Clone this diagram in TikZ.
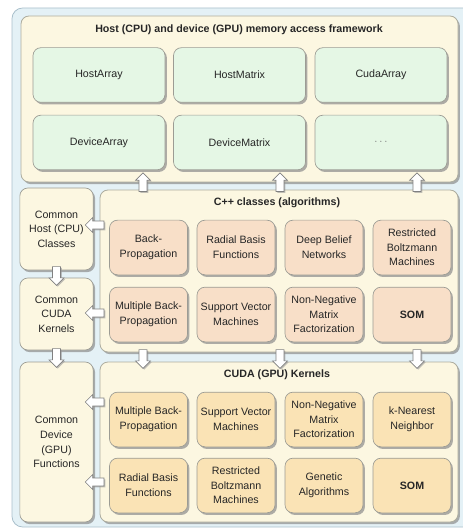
\documentclass[tikz,border=0pt]{standalone}
\usepackage{fontspec}
\setmainfont{Liberation Sans}
\usetikzlibrary{shapes.arrows,shadows}

\definecolor{outerbg}{HTML}{E4F1F6}
\definecolor{outerln}{HTML}{A9BFCB}
\definecolor{panelbg}{HTML}{FCF7E1}
\definecolor{panelln}{HTML}{ADAD9F}
\definecolor{greenbg}{HTML}{E5F7E5}
\definecolor{algbg}{HTML}{F8DFC8}
\definecolor{kernbg}{HTML}{FAE3B5}
\definecolor{boxln}{HTML}{9C9C94}

\tikzset{
  shade/.style={drop shadow={shadow xshift=1.4pt,shadow yshift=-1.6pt,fill=black!45,opacity=.7}},
  panel/.style={draw=panelln,fill=panelbg,rounded corners=6pt,line width=0.6pt,shade},
  box/.style={draw=boxln,rounded corners=6pt,line width=0.5pt,shade,align=center,
    font=\fontsize{8}{11}\selectfont,text=black!85,inner sep=1pt},
  greenbox/.style={box,fill=greenbg,minimum width=99pt,minimum height=41pt},
  algbox/.style={box,fill=algbg,minimum width=58.5pt,minimum height=41pt},
  kernbox/.style={box,fill=kernbg,minimum width=58.5pt,minimum height=41pt},
  sidebox/.style={box,fill=panelbg,minimum width=55pt},
  paneltitle/.style={font=\bfseries\fontsize{8}{10}\selectfont,text=black!85},
  blockarrow/.style={single arrow,draw=black!50,fill=white,line width=0.5pt,
    minimum height=14pt,inner sep=2.7pt,single arrow head extend=2.6pt,
    drop shadow={shadow xshift=1pt,shadow yshift=-1pt,fill=black!40,opacity=.6}},
  uparr/.style={blockarrow,shape border rotate=90},
  downarr/.style={blockarrow,shape border rotate=270},
  leftarr/.style={blockarrow,shape border rotate=180}
}

\begin{document}
\begin{tikzpicture}[x=0.75pt,y=0.75pt,yscale=-1,xscale=1]
\useasboundingbox (0,0) rectangle (462,530);

%Shape: outer background
\draw [draw=outerln,fill=outerbg,rounded corners=8pt,line width=0.6pt] (12,8) rectangle (475,527);

%Shape: framework panel
\node [panel,minimum width=327.75pt,minimum height=124.5pt] (fw) at (239.5,99) {};
% Text Node
\node [paneltitle] (fwtitle) at (239,30) {Host (CPU) and device (GPU) memory access framework};
\node [greenbox] (hostarr) at (99,75) {HostArray};
\node [greenbox] (hostmat) at (239.5,75) {HostMatrix};
\node [greenbox] (cudaarr) at (381,75) {CudaArray};
\node [greenbox] (devarr) at (99,142.5) {DeviceArray};
\node [greenbox] (devmat) at (239.5,142.5) {DeviceMatrix};
\node [greenbox] (more) at (381,142.5) {\textcolor{black!55}{$\cdots$}};

%Shape: left column
\node [sidebox,minimum height=61.5pt] (hostcls) at (56.5,229) {Common\\Host (CPU)\\Classes};
\node [sidebox,minimum height=54pt] (cudak) at (56.5,314) {Common\\CUDA\\Kernels};
\node [sidebox,minimum height=120pt] (devfn) at (56.5,442) {Common\\Device\\(GPU)\\Functions};

%Shape: C++ panel
\node [panel,minimum width=268.5pt,minimum height=121.5pt] (cpp) at (279,271) {};
% Text Node
\node [paneltitle] (cpptitle) at (277,203) {C++ classes (algorithms)};
\node [algbox] (bp) at (148.5,247.5) {Back-\\Propagation};
\node [algbox] (rbf) at (236,247.5) {Radial Basis\\Functions};
\node [algbox] (dbn) at (324,247.5) {Deep Belief\\Networks};
\node [algbox] (rbm) at (412,247.5) {Restricted\\Boltzmann\\Machines};
\node [algbox] (mbp) at (148.5,314.5) {Multiple Back-\\Propagation};
\node [algbox] (svm) at (236,314.5) {Support Vector\\Machines};
\node [algbox] (nmf) at (324,314.5) {Non-Negative\\Matrix\\Factorization};
\node [algbox] (som) at (412,314.5) {\bfseries SOM};

%Shape: CUDA panel
\node [panel,minimum width=268.5pt,minimum height=120pt] (cuda) at (279,442) {};
% Text Node
\node [paneltitle] (cudatitle) at (277,375) {CUDA (GPU) Kernels};
\node [kernbox] (kmbp) at (148.5,419.5) {Multiple Back-\\Propagation};
\node [kernbox] (ksvm) at (236,419.5) {Support Vector\\Machines};
\node [kernbox] (knmf) at (324,419.5) {Non-Negative\\Matrix\\Factorization};
\node [kernbox] (knn) at (412,419.5) {k-Nearest\\Neighbor};
\node [kernbox] (krbf) at (148.5,485.5) {Radial Basis\\Functions};
\node [kernbox] (krbm) at (236,485.5) {Restricted\\Boltzmann\\Machines};
\node [kernbox] (kga) at (324,485.5) {Genetic\\Algorithms};
\node [kernbox] (ksom) at (412,485.5) {\bfseries SOM};

% block arrows
\foreach \ax in {143,280,417}{
  \path (\ax,0 |- cpp.north) -- (\ax,0 |- fw.south) node [uparr,pos=0.75] {};
  \path (\ax,0 |- cpp.south) -- (\ax,0 |- cuda.north) node [downarr,midway] {};
}
\path (cpp.west |- 0,225) -- (hostcls.east |- 0,225) node [leftarr,midway] {};
\path (cpp.west |- 0,313) -- (cudak.east |- 0,313) node [leftarr,midway] {};
\path (cuda.west |- 0,402) -- (devfn.east |- 0,402) node [leftarr,midway] {};
\path (cuda.west |- 0,482) -- (devfn.east |- 0,482) node [leftarr,midway] {};
\path (hostcls.south) -- (cudak.north) node [downarr,midway] {};
\path (cudak.south) -- (devfn.north) node [downarr,midway] {};

\end{tikzpicture}
\end{document}
